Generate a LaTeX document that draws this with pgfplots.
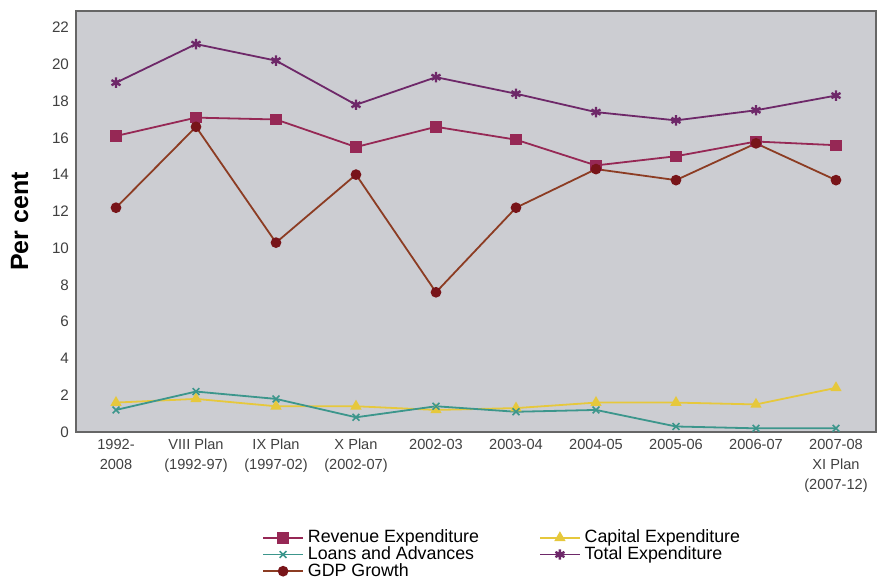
\documentclass[border=0pt]{standalone}
\usepackage{pgfplots}
\pgfplotsset{compat=1.18}
\usepackage{fontspec}
\setmainfont{Liberation Sans}
\definecolor{bggray}{RGB}{204,205,210}
\definecolor{revcol}{RGB}{150,40,85}
\definecolor{totcol}{RGB}{110,40,105}
\definecolor{gdpline}{RGB}{140,60,35}
\definecolor{gdpmark}{RGB}{120,20,25}
\definecolor{capcol}{RGB}{230,200,60}
\definecolor{loancol}{RGB}{60,150,140}
\begin{document}
\begin{tikzpicture}
\useasboundingbox (-38pt,-73pt) rectangle (401.5pt,216pt);
\begin{axis}[
    scale only axis,
    width=400pt, height=210.5pt,
    xmin=-0.5, xmax=9.5,
    ymin=0, ymax=22.9,
    ytick={0,2,...,22},
    xtick={0,...,9},
    xticklabels={{1992-\\2008},{VIII Plan\\(1992-97)},{IX Plan\\(1997-02)},{X Plan\\(2002-07)},2002-03,2003-04,2004-05,2005-06,2006-07,{2007-08\\XI Plan\\(2007-12)}},
    xticklabel style={align=center, font=\fontsize{7.3}{10}\selectfont, text=black!75},
    yticklabel style={font=\fontsize{7.6}{9}\selectfont, text=black!75},
    /pgf/number format/assume math mode=true,
    major tick length=0pt,
    axis background/.style={fill=bggray},
    axis line style={black!60, line width=0.6pt},
    ylabel={\bfseries Per cent},
    ylabel style={font=\fontsize{12.5}{14}\selectfont, yshift=5pt},
    legend columns=2,
    legend style={at={(0.534,-0.222)}, anchor=north, draw=none, fill=none,
        font=\fontsize{8.9}{7}\selectfont, row sep=-3.6pt,
        /tikz/every even column/.append style={column sep=28pt},
        inner sep=0pt},
    legend cell align=left,
    legend image code/.code={\draw[mark repeat=2,mark phase=2] plot coordinates {(0cm,0cm) (0.35cm,0cm) (0.7cm,0cm)};},
    every axis plot/.append style={line width=0.9pt},
]
\addplot[revcol, mark=square*, mark size=2.4pt] coordinates {
(0,16.1) (1,17.1) (2,17.0) (3,15.5) (4,16.6) (5,15.9) (6,14.5) (7,15.0) (8,15.8) (9,15.6)};
\addlegendentry{Revenue Expenditure}
\addplot[capcol, mark=triangle*, mark size=2.4pt] coordinates {
(0,1.6) (1,1.8) (2,1.4) (3,1.4) (4,1.2) (5,1.3) (6,1.6) (7,1.6) (8,1.5) (9,2.4)};
\addlegendentry{Capital Expenditure}
\addplot[loancol, mark=x, mark size=2.4pt, mark options={line width=0.8pt}] coordinates {
(0,1.2) (1,2.2) (2,1.8) (3,0.8) (4,1.4) (5,1.1) (6,1.2) (7,0.3) (8,0.2) (9,0.2)};
\addlegendentry{Loans and Advances}
\addplot[totcol, mark=asterisk, mark size=2.6pt, mark options={line width=1.2pt}] coordinates {
(0,19.0) (1,21.1) (2,20.2) (3,17.8) (4,19.3) (5,18.4) (6,17.4) (7,16.95) (8,17.5) (9,18.3)};
\addlegendentry{Total Expenditure}
\addplot[gdpline, mark=*, mark size=2.2pt, mark options={fill=gdpmark, draw=gdpmark}] coordinates {
(0,12.2) (1,16.6) (2,10.3) (3,14.0) (4,7.6) (5,12.2) (6,14.3) (7,13.7) (8,15.7) (9,13.7)};
\addlegendentry{GDP Growth}
\end{axis}
\end{tikzpicture}
\end{document}
